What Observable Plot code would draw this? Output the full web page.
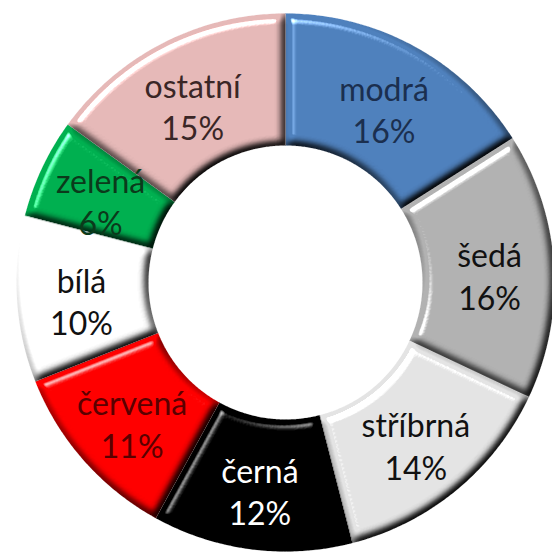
<!DOCTYPE html>
<html>
<head>
<meta charset="utf-8">
<script src="https://cdn.jsdelivr.net/npm/d3@7"></script>
<script src="https://cdn.jsdelivr.net/npm/@observablehq/plot@0.6"></script>
<style>
  html, body { margin: 0; padding: 0; background: #fff; }
  #chart { width: 552px; height: 559px; }
</style>
</head>
<body>
<div id="chart"></div>
<script>
// ---- data ----
const categories = ["modrá", "šedá", "stříbrná", "černá", "červená", "bílá", "zelená", "ostatní"];
const values = [16, 16, 14, 12, 11, 10, 6, 15];
const sliceColors = ["#4F81BD", "#B2B2B2", "#E4E4E4", "#000000", "#FF0000", "#FFFFFF", "#00B050", "#E6B9B8"];
const labelColors = ["#1B2F4F", "#111111", "#111111", "#FFFFFF", "#5A0000", "#111111", "#0B3A1B", "#3A2626"];

// ---- layout ----
const W = 552, H = 559;
const cx = 285, cy = 282, R = 269;      // centre and outer radius in px
const innerFrac = 137 / 269;            // hole
const labelFrac = 0.76;

const total = d3.sum(values);
let acc = 0;
const slices = categories.map((c, i) => {
  const a0 = acc / total * 2 * Math.PI;
  acc += values[i];
  const a1 = acc / total * 2 * Math.PI;
  return {cat: c, value: values[i], a0, a1, pct: Math.round(values[i] / total * 100) + "%"};
});

// polygon points for each slice (unit coordinates, y up)
const pts = [];
for (const s of slices) {
  const n = Math.max(8, Math.ceil((s.a1 - s.a0) / 0.01));
  for (let k = 0; k <= n; k++) {
    const a = s.a0 + (s.a1 - s.a0) * k / n;
    pts.push({cat: s.cat, x: Math.sin(a), y: Math.cos(a)});
  }
  for (let k = n; k >= 0; k--) {
    const a = s.a0 + (s.a1 - s.a0) * k / n;
    pts.push({cat: s.cat, x: innerFrac * Math.sin(a), y: innerFrac * Math.cos(a)});
  }
}

const labels = slices.map((s, i) => {
  const a = (s.a0 + s.a1) / 2;
  return {cat: s.cat, text: s.cat + "\n" + s.pct, x: labelFrac * Math.sin(a), y: labelFrac * Math.cos(a), color: labelColors[i]};
});

const plot = Plot.plot({
  width: W, height: H,
  margin: 0,
  style: {background: "transparent", overflow: "visible"},
  x: {domain: [-cx / R, (W - cx) / R], range: [0, W], axis: null},
  y: {domain: [cy / R, -(H - cy) / R], range: [0, H], axis: null},
  color: {domain: categories, range: sliceColors},
  marks: [
    Plot.line(pts, {x: "x", y: "y", z: "cat", fill: "cat", stroke: "cat", strokeWidth: 0.5, curve: "linear-closed"}),
    Plot.text(labels, {
      x: "x", y: "y", text: "text", fill: d => d.color,
      fontSize: 32, fontWeight: 400, lineHeight: 1.33, fontFamily: "Lato, 'Open Sans', sans-serif",
      textAnchor: "middle", dy: 5
    })
  ]
});

// bevel-like lighting filter applied to each slice
const ns = "http://www.w3.org/2000/svg";
const defs = document.createElementNS(ns, "defs");
defs.innerHTML = `
<filter id="bevel" x="-10%" y="-10%" width="120%" height="120%" color-interpolation-filters="sRGB">
  <feGaussianBlur in="SourceAlpha" stdDeviation="4.5" result="blur"/>
  <feDiffuseLighting in="blur" surfaceScale="7" diffuseConstant="1.22" lighting-color="#ffffff" result="diff">
    <feDistantLight azimuth="235" elevation="55"/>
  </feDiffuseLighting>
  <feComposite in="diff" in2="SourceGraphic" operator="arithmetic" k1="1" k2="0" k3="0" k4="0" result="shaded"/>
  <feSpecularLighting in="blur" surfaceScale="7" specularConstant="0.9" specularExponent="18" lighting-color="#ffffff" result="spec">
    <feDistantLight azimuth="235" elevation="50"/>
  </feSpecularLighting>
  <feColorMatrix in="spec" type="matrix" values="0 0 0 0 1  0 0 0 0 1  0 0 0 0 1  0 0 0 1.6 -0.5" result="specAdj"/>
  <feComposite in="specAdj" in2="SourceAlpha" operator="in" result="specIn"/>
  <feComposite in="shaded" in2="specIn" operator="arithmetic" k1="0" k2="1" k3="0.8" k4="0" result="lit"/>
  <feComposite in="lit" in2="SourceAlpha" operator="in"/>
</filter>`;
plot.insertBefore(defs, plot.firstChild);
plot.querySelectorAll('g[aria-label="line"] path').forEach(p => p.setAttribute("filter", "url(#bevel)"));

document.getElementById("chart").appendChild(plot);
</script>
</body>
</html>
